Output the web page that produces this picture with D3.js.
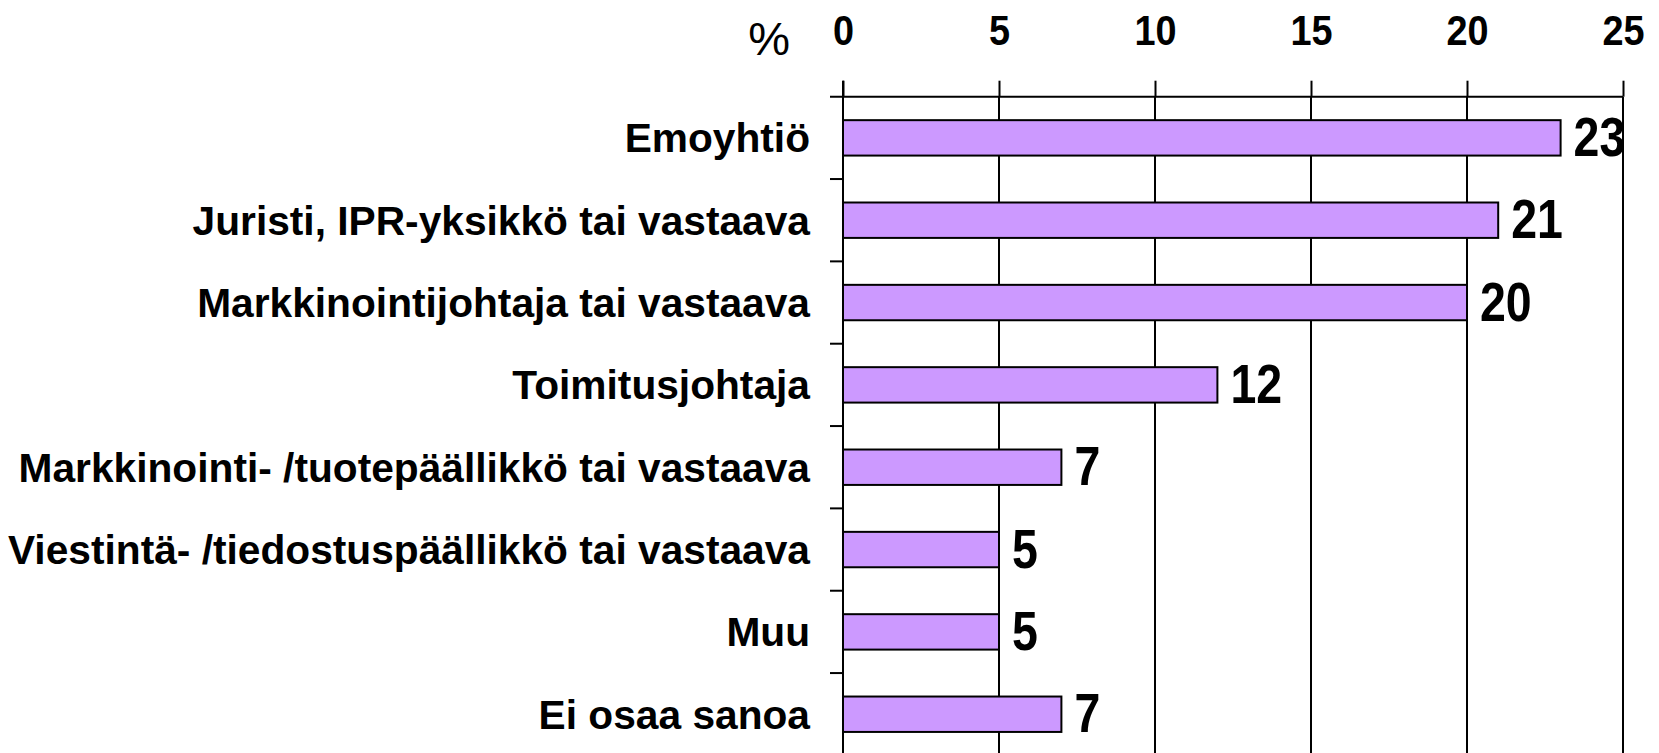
<!DOCTYPE html>
<html>
<head>
<meta charset="utf-8">
<script src="https://cdn.jsdelivr.net/npm/d3@7"></script>
<style>
  html, body { margin: 0; padding: 0; background: #fff; overflow: hidden; }
  svg { display: block; }
</style>
</head>
<body>
<svg id="chart" width="1659" height="753"></svg>
<script>
const categories = [
  "Emoyhtiö",
  "Juristi, IPR-yksikkö tai vastaava",
  "Markkinointijohtaja tai vastaava",
  "Toimitusjohtaja",
  "Markkinointi- /tuotepäällikkö tai vastaava",
  "Viestintä- /tiedostuspäällikkö tai vastaava",
  "Muu",
  "Ei osaa sanoa"
];
const values = [23, 21, 20, 12, 7, 5, 5, 7];
const tickValues = [0, 5, 10, 15, 20, 25];
const unitLabel = "%";

const FONT = "'Liberation Sans', Arial, Helvetica, sans-serif";
const svg = d3.select("#chart");

const x = d3.scaleLinear().domain([0, 25]).range([843, 1623]);
const y = d3.scaleBand().domain(categories).range([96.7, 755.4])
  .paddingInner(0.57).paddingOuter(0.285);

const axisTopY = y.range()[0];
const step = y.step();

// vertical gridlines
svg.append("g").selectAll("line")
  .data(tickValues.filter(d => d > 0))
  .join("line")
  .attr("x1", d => x(d)).attr("x2", d => x(d))
  .attr("y1", axisTopY).attr("y2", 770)
  .attr("stroke", "#000").attr("stroke-width", 2);

// top axis
const gx = svg.append("g")
  .attr("transform", `translate(0,${axisTopY})`)
  .call(d3.axisTop(x).tickValues(tickValues).tickSize(16).tickSizeOuter(0).tickPadding(35.5));
gx.select(".domain").remove();
gx.selectAll(".tick line").attr("stroke", "#000").attr("stroke-width", 2);
gx.selectAll(".tick text")
  .attr("fill", "#000")
  .attr("font-family", FONT)
  .attr("font-weight", "bold")
  .attr("font-size", 43)
  .attr("text-anchor", "middle")
  .attr("transform", function() {
    const yy = +d3.select(this).attr("y");
    d3.select(this).attr("y", null);
    return `translate(0,${yy}) scale(0.88,1)`;
  });

// top axis line, extending left to the category ticks
svg.append("line")
  .attr("x1", x(0) - 13).attr("x2", x(25))
  .attr("y1", axisTopY).attr("y2", axisTopY)
  .attr("stroke", "#000").attr("stroke-width", 2);

// left axis line
svg.append("line")
  .attr("x1", x(0)).attr("x2", x(0))
  .attr("y1", axisTopY - 16).attr("y2", 770)
  .attr("stroke", "#000").attr("stroke-width", 2);

// category tick marks at band boundaries
svg.append("g").selectAll("line")
  .data(d3.range(1, categories.length + 1))
  .join("line")
  .attr("x1", x(0) - 13).attr("x2", x(0))
  .attr("y1", d => axisTopY + d * step).attr("y2", d => axisTopY + d * step)
  .attr("stroke", "#000").attr("stroke-width", 2);

// unit label
svg.append("text")
  .attr("x", 790).attr("y", 55)
  .attr("text-anchor", "end")
  .attr("font-family", FONT)
  .attr("font-size", 47)
  .attr("fill", "#000")
  .text(unitLabel);

// bars
svg.append("g").selectAll("rect")
  .data(values)
  .join("rect")
  .attr("x", x(0))
  .attr("y", (d, i) => y(categories[i]))
  .attr("width", d => x(d) - x(0))
  .attr("height", y.bandwidth())
  .attr("fill", "#CC99FF")
  .attr("stroke", "#000")
  .attr("stroke-width", 2);

// category labels
svg.append("g").selectAll("text")
  .data(categories)
  .join("text")
  .attr("x", 810)
  .attr("y", d => y(d) + y.bandwidth() / 2 + 14.5)
  .attr("text-anchor", "end")
  .attr("font-family", FONT)
  .attr("font-weight", "bold")
  .attr("font-size", 40.7)
  .attr("fill", "#000")
  .text(d => d);

// value labels
svg.append("g").selectAll("text")
  .data(values)
  .join("text")
  .attr("transform", (d, i) => `translate(${x(d) + 13},${y(categories[i]) + y.bandwidth() / 2 + 18}) scale(0.83,1)`)
  .attr("text-anchor", "start")
  .attr("font-family", FONT)
  .attr("font-weight", "bold")
  .attr("font-size", 56)
  .attr("fill", "#000")
  .text(d => d);
</script>
</body>
</html>
